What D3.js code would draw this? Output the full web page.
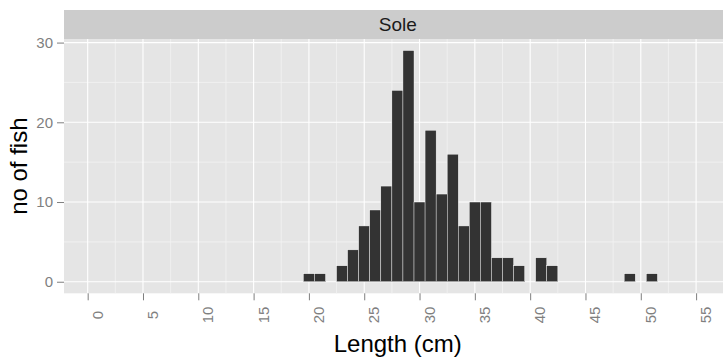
<!DOCTYPE html>
<html>
<head>
<meta charset="utf-8">
<script src="https://cdn.jsdelivr.net/npm/d3@7"></script>
<style>
  body { margin: 0; background: #fff; }
  svg { display: block; font-family: "Liberation Sans", Arial, sans-serif; }
</style>
</head>
<body>
<script>
// length classes (cm, bin centres) and counts of sole
var lengthCm = [20, 21, 23, 24, 25, 26, 27, 28, 29, 30, 31, 32, 33, 34, 35, 36, 37, 38, 39, 41, 42, 49, 51];
var fishCount = [1, 1, 2, 4, 7, 9, 12, 24, 29, 10, 19, 11, 16, 7, 10, 10, 3, 3, 2, 3, 2, 1, 1];
var xTicks = [0, 5, 10, 15, 20, 25, 30, 35, 40, 45, 50, 55];
var yTicks = [0, 10, 20, 30];
var facetLabel = "Sole";

var svgWidth = 723;
var svgHeight = 358;
var panel = { left: 64, right: 731.5, top: 39, bottom: 293.3 };
var binWidth = 1;

var barData = lengthCm.map(function (d, i) {
    return { x: d, y: fishCount[i] };
});

var svg = d3.select("body")
        .append("svg")
        .attr("width", svgWidth)
        .attr("height", svgHeight);

var xScale = d3.scaleLinear()
        .domain([-2.14, 58.2])
        .range([panel.left, panel.right]);

var yScale = d3.scaleLinear()
        .domain([-1.45, 30.45])
        .range([panel.bottom, panel.top]);

// strip
svg.append("rect")
        .attr("x", panel.left)
        .attr("y", 10)
        .attr("width", panel.right - panel.left)
        .attr("height", panel.top - 10)
        .attr("fill", "#cccccc");

svg.append("text")
        .attr("x", (panel.left + panel.right) / 2)
        .attr("y", 31)
        .attr("text-anchor", "middle")
        .attr("font-size", 19)
        .attr("fill", "#1a1a1a")
        .text(facetLabel);

// panel background
svg.append("rect")
        .attr("x", panel.left)
        .attr("y", panel.top)
        .attr("width", panel.right - panel.left)
        .attr("height", panel.bottom - panel.top)
        .attr("fill", "#e5e5e5");

// minor grid
var xMinor = xTicks.map(function (d) { return d + 2.5; });
var yMinor = [5, 15, 25];

var grid = svg.append("g");
grid.selectAll(".xminor")
        .data(xMinor)
        .enter().append("line")
        .attr("x1", function (d) { return xScale(d); })
        .attr("x2", function (d) { return xScale(d); })
        .attr("y1", panel.top)
        .attr("y2", panel.bottom)
        .attr("stroke", "#f2f2f2")
        .attr("stroke-width", 0.8);
grid.selectAll(".yminor")
        .data(yMinor)
        .enter().append("line")
        .attr("x1", panel.left)
        .attr("x2", panel.right)
        .attr("y1", function (d) { return yScale(d); })
        .attr("y2", function (d) { return yScale(d); })
        .attr("stroke", "#f2f2f2")
        .attr("stroke-width", 0.8);

// major grid
grid.selectAll(".xmajor")
        .data(xTicks)
        .enter().append("line")
        .attr("x1", function (d) { return xScale(d); })
        .attr("x2", function (d) { return xScale(d); })
        .attr("y1", panel.top)
        .attr("y2", panel.bottom)
        .attr("stroke", "#ffffff")
        .attr("stroke-width", 1.1);
grid.selectAll(".ymajor")
        .data(yTicks)
        .enter().append("line")
        .attr("x1", panel.left)
        .attr("x2", panel.right)
        .attr("y1", function (d) { return yScale(d); })
        .attr("y2", function (d) { return yScale(d); })
        .attr("stroke", "#ffffff")
        .attr("stroke-width", 1.1);

// histogram bars
svg.selectAll(".bar")
        .data(barData)
        .enter()
        .append("rect")
        .attr("class", "bar")
        .attr("x", function (d) { return xScale(d.x - binWidth / 2); })
        .attr("y", function (d) { return yScale(d.y); })
        .attr("width", xScale(binWidth) - xScale(0))
        .attr("height", function (d) { return yScale(0) - yScale(d.y); })
        .attr("fill", "#333333")
        .attr("stroke", "#ffffff")
        .attr("stroke-width", 0.4);

// axes
var xAxis = d3.axisBottom(xScale)
        .tickValues(xTicks)
        .tickSize(7)
        .tickSizeOuter(0);

var yAxis = d3.axisLeft(yScale)
        .tickValues(yTicks)
        .tickSize(7)
        .tickSizeOuter(0);

var gx = svg.append("g")
        .attr("transform", "translate(0," + panel.bottom + ")")
        .call(xAxis);
gx.select(".domain").remove();
gx.selectAll(".tick line").attr("stroke", "#7f7f7f");
gx.selectAll(".tick text")
        .attr("font-size", 15)
        .attr("fill", "#7f7f7f")
        .attr("text-anchor", "middle")
        .attr("dy", null)
        .attr("y", null)
        .attr("transform", "translate(14.5," + (315 - panel.bottom) + ") rotate(-90)");

var gy = svg.append("g")
        .attr("transform", "translate(" + panel.left + ",0)")
        .call(yAxis);
gy.select(".domain").remove();
gy.selectAll(".tick line").attr("stroke", "#7f7f7f");
gy.selectAll(".tick text")
        .attr("font-size", 15)
        .attr("fill", "#7f7f7f")
        .attr("x", -11);

// axis titles
svg.append("text")
        .attr("x", (panel.left + panel.right) / 2)
        .attr("y", 351.7)
        .attr("text-anchor", "middle")
        .attr("font-size", 24)
        .attr("fill", "#000")
        .text("Length (cm)");

svg.append("text")
        .attr("transform", "translate(26.7," + ((panel.top + panel.bottom) / 2) + ") rotate(-90)")
        .attr("text-anchor", "middle")
        .attr("font-size", 24)
        .attr("fill", "#000")
        .text("no of fish");
</script>
</body>
</html>
